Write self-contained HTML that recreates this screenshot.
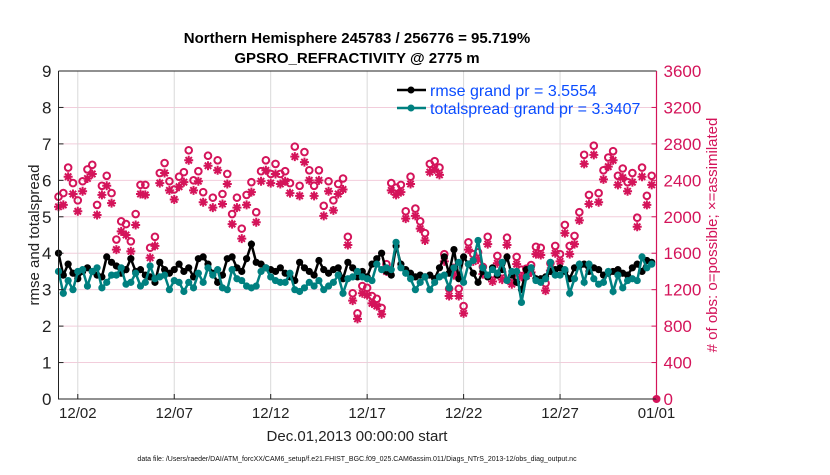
<!DOCTYPE html>
<html><head><meta charset="utf-8"><style>
body{margin:0;background:#fff}
svg text{font-family:"Liberation Sans",Arial,sans-serif}
</style></head><body>
<svg id="chart" width="830" height="470" viewBox="0 0 830 470" xmlns="http://www.w3.org/2000/svg">
<rect width="830" height="470" fill="#fff"/>
<text x="357" y="43" text-anchor="middle" font-size="15" font-weight="bold">Northern Hemisphere 245783 / 256776 = 95.719%</text>
<text x="357" y="63" text-anchor="middle" font-size="15" font-weight="bold">GPSRO_REFRACTIVITY @ 2775 m</text>
<g id="grid"></g>
<g id="marks"></g>
<g id="axes"></g>
<text transform="translate(39,235) rotate(-90)" text-anchor="middle" font-size="15" fill="#222">rmse and totalspread</text>
<text transform="translate(717,235) rotate(-90)" text-anchor="middle" font-size="15" fill="#d4145a"># of obs: o=possible; ×=assimilated</text>
<text x="357" y="441" text-anchor="middle" font-size="15" fill="#222">Dec.01,2013 00:00:00 start</text>
<text x="357" y="461" text-anchor="middle" font-size="7" fill="#111">data file: /Users/raeder/DAI/ATM_forcXX/CAM6_setup/f.e21.FHIST_BGC.f09_025.CAM6assim.011/Diags_NTrS_2013-12/obs_diag_output.nc</text>
<g>
<line x1="397" y1="90" x2="426" y2="90" stroke="#000" stroke-width="2.5"/>
<circle cx="411" cy="90" r="3.5" fill="#000"/>
<text x="430" y="96" font-size="16" fill="#0a4cff">rmse grand pr = 3.5554</text>
<line x1="397" y1="108" x2="426" y2="108" stroke="#008080" stroke-width="2.5"/>
<circle cx="411" cy="108" r="3.5" fill="#008080"/>
<text x="430" y="114" font-size="16" fill="#0a4cff">totalspread grand pr = 3.3407</text>
</g>
</svg>
<script>
const xTickDays=[1,6,11,16,21,26,31];
const xTickLabels=["12/02","12/07","12/12","12/17","12/22","12/27","01/01"];
const yLeftTicks=[0,1,2,3,4,5,6,7,8,9];
const yRightTicks=[0,400,800,1200,1600,2000,2400,2800,3200,3600];
const rmse=[4.0,3.4,3.7,3.45,3.3,3.5,3.6,3.5,3.4,3.35,3.9,3.75,3.65,3.45,3.55,3.85,
3.5,3.55,3.4,3.35,3.2,3.75,3.55,3.45,3.55,3.7,3.5,3.6,3.35,3.85,3.9,3.7,
3.45,3.2,3.4,3.85,3.9,3.6,3.5,3.85,4.25,3.75,3.7,3.6,3.55,3.5,3.6,3.45,
3.35,3.25,3.75,3.6,3.5,3.4,3.8,3.55,3.45,3.55,3.6,3.3,3.75,3.6,3.35,3.5,
3.35,3.7,3.85,4.0,3.5,3.4,4.2,3.7,3.55,3.45,3.35,3.4,3.35,3.4,3.3,3.6,
3.9,3.45,4.1,3.3,3.9,3.7,3.45,3.2,3.5,3.35,3.6,3.4,3.55,3.9,3.4,3.2,
3.0,3.55,3.6,3.3,3.3,3.35,3.5,3.55,3.6,3.5,3.3,3.6,3.65,3.7,3.5,3.6,
3.55,3.4,3.45,3.5,3.55,3.45,3.4,3.6,3.7,3.5,3.8,3.75];
const spread=[3.5,2.9,3.25,3.0,3.5,3.55,3.1,3.5,3.6,3.05,3.2,3.4,3.4,3.6,3.15,3.2,
3.45,3.1,3.2,3.65,3.3,3.35,3.4,3.0,3.25,3.2,2.95,3.2,3.05,3.45,3.2,3.6,
3.4,3.55,3.05,3.0,3.55,3.3,3.25,3.1,3.05,3.1,3.5,3.6,3.35,3.25,3.2,3.2,
3.45,3.0,2.95,3.05,3.2,3.1,3.25,3.0,3.1,3.2,3.4,2.9,3.3,3.35,3.5,3.35,
3.3,3.25,3.7,3.55,3.6,3.55,4.3,3.6,3.45,3.3,3.0,3.2,3.35,3.0,3.2,3.35,
3.4,3.05,3.6,3.75,3.2,3.7,3.8,4.35,3.6,3.4,3.55,3.45,3.75,3.25,3.5,3.5,
2.65,3.35,3.6,3.25,3.2,3.3,3.75,3.4,3.4,3.55,2.9,3.3,3.7,3.2,3.7,3.3,
3.15,3.2,3.5,2.95,3.4,3.05,3.25,3.3,3.25,3.9,3.6,3.7];
const possible=[2220,2260,2540,2370,2180,2390,2520,2570,2130,2340,2450,2260,1750,1950,1920,1730,2030,2350,2350,1660,
1780,2480,2590,2390,2300,2440,2490,2730,2400,2500,2270,2670,2210,2620,2250,2470,2030,2210,1870,2240,
2380,2050,2500,2620,2470,2580,2470,2500,2370,2770,2340,2710,2510,2340,2510,2120,2390,2180,2360,2420,
1780,1160,940,1240,1220,1130,1100,1000,1480,2370,2320,2350,2060,2440,2090,1950,1820,2580,2610,2540,
1590,1210,1440,1210,1020,1720,1590,1610,1450,1780,1370,1570,1390,1770,1340,1560,1420,1430,1470,1670,
1660,1270,1490,1680,1590,1910,1680,1790,2050,2680,2240,2780,2260,2510,2650,2720,2450,2530,2380,2480,
1990,2540,2230,2450,0];
const assimilated=[2110,2130,2440,2250,2060,2280,2420,2470,2020,2240,2340,2150,1640,1840,1800,1620,1910,2250,2240,1550,
1680,2370,2480,2290,2190,2330,2380,2620,2290,2390,2160,2560,2100,2510,2140,2360,1920,2100,1760,2130,
2270,1940,2390,2510,2370,2470,2360,2390,2260,2660,2230,2600,2400,2230,2400,2010,2280,2070,2250,2300,
1690,1080,880,1160,1140,1050,1020,930,1400,2290,2240,2270,1980,2360,2010,1870,1740,2490,2520,2460,
1510,1130,1360,1130,940,1640,1510,1530,1370,1700,1290,1490,1310,1690,1260,1480,1340,1350,1390,1590,
1580,1190,1410,1600,1510,1820,1590,1700,1960,2580,2140,2680,2160,2410,2550,2620,2350,2430,2280,2380,
1890,2440,2130,2350,0];

const X0=58.5,X1=656.5,Y0=399,Y1=71;
const DAYS=31;
function xs(d){return X0+(X1-X0)*d/DAYS;}
function yl(v){return Y0-(Y0-Y1)*v/9;}
function yr(v){return Y0-(Y0-Y1)*v/3600;}
const NS="http://www.w3.org/2000/svg";
function mk(tag,attrs,parent){const e=document.createElementNS(NS,tag);for(const k in attrs)e.setAttribute(k,attrs[k]);parent.appendChild(e);return e;}
const grid=document.getElementById('grid'),marks=document.getElementById('marks'),axes=document.getElementById('axes');
const RED="#d4145a",TEAL="#008080";

yLeftTicks.forEach((t,i)=>{
  if(t>0&&t<9){const g=mk('line',{x1:X0,x2:X1,y1:yl(t),y2:yl(t),stroke:'#f2cddb','stroke-width':1},grid);
  
  }
  const tl=mk('text',{x:X0-7,y:yl(t)+6,'text-anchor':'end','font-size':17,fill:'#222'},axes);
  tl.textContent=t;
  
  
  mk('line',{x1:X0,x2:X0+5,y1:yl(t),y2:yl(t),stroke:'#222'},axes);
});
yRightTicks.forEach(t=>{
  const tl=mk('text',{x:X1+7,y:yr(t)+6,'font-size':17,fill:RED},axes);
  tl.textContent=t;
  
  
  mk('line',{x1:X1-5,x2:X1,y1:yr(t),y2:yr(t),stroke:RED},axes);
});
xTickDays.forEach((d,i)=>{
  if(d<DAYS){const g=mk('line',{x1:xs(d),x2:xs(d),y1:Y1,y2:Y0,stroke:'#d9d9d9','stroke-width':1},grid);
  
  }
  mk('line',{x1:xs(d),x2:xs(d),y1:Y0,y2:Y0-5,stroke:'#222'},axes);
  const tl=mk('text',{x:xs(d),y:418,'text-anchor':'middle','font-size':15,fill:'#222'},axes);
  tl.textContent=xTickLabels[i];
  
  
});
const ax=mk('path',{d:`M${X0},${Y1}H${X1}M${X0},${Y1}V${Y0}H${X1}`,stroke:'#222',fill:'none','stroke-width':1},axes);


const rax=mk('line',{x1:X1,x2:X1,y1:Y1,y2:Y0,stroke:RED,'stroke-width':1.2},axes);



// counts
possible.forEach((v,i)=>{
  const x=xs(i*0.25),y=yr(v);
  if(v===0){const c=mk('circle',{cx:x,cy:y,r:4,fill:RED},marks);
    
    return;}
  const c=mk('circle',{cx:x,cy:y,r:3.3,fill:'none',stroke:RED,'stroke-width':2},marks);
  
  
});
assimilated.forEach((v,i)=>{
  if(v===0)return;
  const x=xs(i*0.25),y=yr(v),s=4.5,q=3.2;
  const p=mk('path',{d:`M${x-s},${y}H${x+s}M${x},${y-s}V${y+s}M${x-q},${y-q}L${x+q},${y+q}M${x-q},${y+q}L${x+q},${y-q}`,stroke:RED,'stroke-width':2,fill:'none'},marks);
  
  
});
// lines
function series(arr,color,name){
  const pts=arr.map((v,i)=>xs(i*0.25).toFixed(1)+','+yl(v).toFixed(1)).join(' ');
  const pl=mk('polyline',{points:pts,fill:'none',stroke:color,'stroke-width':2.5},marks);
  
  
  arr.forEach((v,i)=>{
    const c=mk('circle',{cx:xs(i*0.25),cy:yl(v),r:3.6,fill:color},marks);
    
    
  });
}
series(rmse,'#000','rmse');
series(spread,TEAL,'totalspread');
</script>
</body></html>
